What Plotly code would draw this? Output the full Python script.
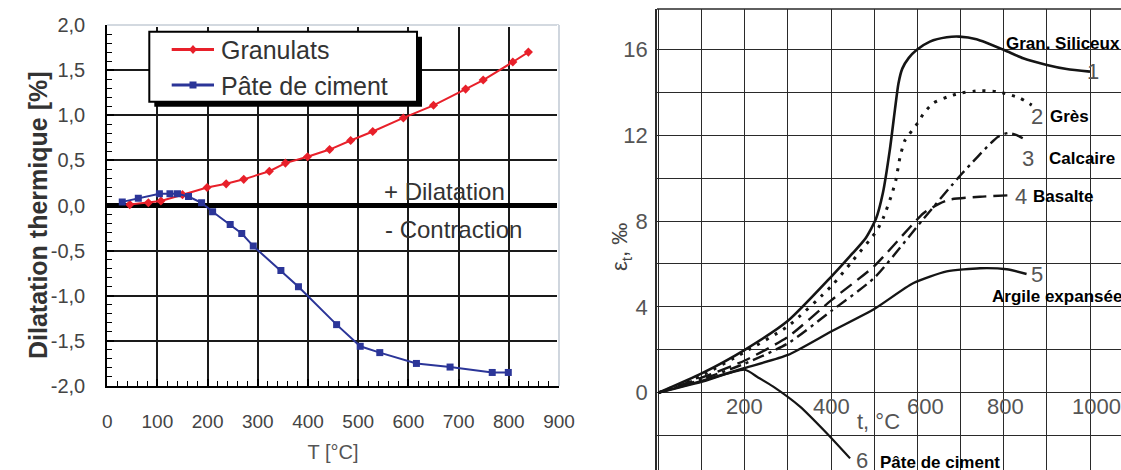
import plotly.graph_objects as go

W, H = 1121, 470

# ---------------- left chart data ----------------
gran_T = [45, 82, 107, 150, 199, 237, 272, 323, 355, 399, 443, 485, 529, 590, 650, 714, 749, 808, 839]
gran_D = [0.01, 0.03, 0.05, 0.12, 0.20, 0.24, 0.29, 0.38, 0.47, 0.54, 0.62, 0.72, 0.82, 0.97, 1.11, 1.29, 1.39, 1.59, 1.70]
pate_T = [30, 62, 104, 125, 140, 162, 188, 210, 245, 268, 291, 346, 381, 457, 504, 543, 616, 683, 767, 799]
pate_D = [0.04, 0.08, 0.13, 0.13, 0.13, 0.10, 0.03, -0.07, -0.21, -0.31, -0.45, -0.72, -0.90, -1.32, -1.56, -1.63, -1.75, -1.79, -1.85, -1.85]
left_names = ["Granulats", "Pâte de ciment"]
left_colors = ["#e8202a", "#2b3598"]
left_xticks = [0, 100, 200, 300, 400, 500, 600, 700, 800, 900]
left_yticks = [-2.0, -1.5, -1.0, -0.5, 0.0, 0.5, 1.0, 1.5, 2.0]
left_ytext = ["-2,0", "-1,5", "-1,0", "-0,5", "0,0", "0,5", "1,0", "1,5", "2,0"]

# ---------------- right chart data ----------------
c1_t = [0, 100, 200, 300, 400, 450, 480, 504, 520, 536, 548, 556, 565, 580, 598, 629, 668, 697, 737, 801, 845, 900, 946, 1000]
c1_e = [0, 0.9, 2.0, 3.35, 5.4, 6.5, 7.2, 8.1, 9.3, 11.3, 13.2, 14.4, 15.1, 15.6, 15.97, 16.36, 16.56, 16.59, 16.47, 15.97, 15.58, 15.27, 15.08, 14.96]
c2_t = [0, 100, 200, 300, 400, 450, 506, 521, 540, 550, 560, 571, 587, 602, 614, 637, 672, 697, 745, 784, 811, 838, 865]
c2_e = [0, 0.8, 1.9, 3.1, 4.95, 6.15, 7.55, 8.15, 9.2, 9.9, 11.0, 11.75, 12.2, 12.6, 13.0, 13.5, 13.8, 13.95, 14.07, 14.03, 13.9, 13.72, 13.4]
c3_t = [0, 100, 200, 300, 400, 500, 614, 703, 787, 811, 830, 853]
c3_e = [0, 0.62, 1.35, 2.3, 3.8, 5.35, 8.1, 10.2, 11.93, 12.1, 12.0, 11.75]
c4_t = [0, 100, 200, 300, 400, 500, 614, 650, 675, 745, 815]
c4_e = [0, 0.7, 1.5, 2.6, 4.3, 5.9, 8.36, 8.8, 9.0, 9.13, 9.2]
c5_t = [0, 100, 200, 300, 400, 500, 590, 668, 745, 807, 853]
c5_e = [0, 0.55, 1.15, 1.76, 2.85, 3.9, 5.1, 5.65, 5.8, 5.75, 5.53]
c6_t = [0, 100, 200, 230, 266, 328, 390, 444]
c6_e = [0, 0.5, 1.07, 0.72, 0.28, -0.65, -1.89, -3.06]
right_xlabels = ["200", "400", "600", "800", "1000"]
right_xlabel_pos = [200, 402, 619, 805, 1015]
right_yticks = [0, 4, 8, 12, 16]

FONT = "Liberation Sans"
fig = go.Figure()

# left traces
fig.add_trace(go.Scatter(x=gran_T, y=gran_D, name=left_names[0], mode="lines+markers",
                         line=dict(color=left_colors[0], width=2),
                         marker=dict(symbol="diamond", size=7, color=left_colors[0]),
                         xaxis="x", yaxis="y", showlegend=False))
fig.add_trace(go.Scatter(x=pate_T, y=pate_D, name=left_names[1], mode="lines+markers",
                         line=dict(color=left_colors[1], width=2),
                         marker=dict(symbol="square", size=7, color=left_colors[1]),
                         xaxis="x", yaxis="y", showlegend=False))

# right traces
blk = "#151515"
for t, e, dash, w in [(c1_t, c1_e, "solid", 2.6), (c2_t, c2_e, "3px,7px", 3),
                      (c3_t, c3_e, "12px,5px,3px,5px", 2.4), (c4_t, c4_e, "14px,7px", 2.4),
                      (c5_t, c5_e, "solid", 2.4), (c6_t, c6_e, "solid", 2.2)]:
    fig.add_trace(go.Scatter(x=t, y=e, mode="lines", showlegend=False,
                             line=dict(color=blk, width=w, dash=dash, shape="spline", smoothing=0.6),
                             xaxis="x2", yaxis="y2"))

# geometry
lx0, lx1 = 107.2 / W, 559 / W
ly0, ly1 = 1 - 386 / H, 1 - 25 / H
rx0 = 657 / W
ry1 = 1 - 9 / H

grid_c = "#1a1a1a"
fig.update_layout(
    width=W, height=H, autosize=False,
    margin=dict(l=0, r=0, t=0, b=0, autoexpand=False),
    paper_bgcolor="white", plot_bgcolor="white",
    font=dict(family=FONT, color="#444"),
    showlegend=False,
    xaxis=dict(domain=[lx0, lx1], range=[0, 900], tickvals=left_xticks, automargin=False,
               showgrid=True, gridcolor=grid_c, gridwidth=1.8,
               showline=True, linecolor="black", linewidth=2, zeroline=False,
               ticks="inside", ticklen=7, tickcolor="black", tickwidth=1.5,
               minor=dict(dtick=20, tick0=0, ticks="inside", ticklen=5, tickcolor="black", tickwidth=1.2, showgrid=False),
               tickfont=dict(size=19, color="#444"), ticklabelstandoff=17,
               title=dict(text="T [°C]", font=dict(size=20, color="#555"), standoff=14),
               anchor="y"),
    yaxis=dict(domain=[ly0, ly1], range=[-2, 2], tickvals=left_yticks, ticktext=left_ytext, automargin=False,
               showgrid=True, gridcolor=grid_c, gridwidth=1.8,
               showline=True, linecolor="black", linewidth=2,
               zeroline=True, zerolinecolor="black", zerolinewidth=5,
               ticks="inside", ticklen=7, tickcolor="black", tickwidth=1.5,
               minor=dict(dtick=0.1, tick0=0, ticks="inside", ticklen=5, tickcolor="black", tickwidth=1.2, showgrid=False),
               tickfont=dict(size=20, color="#444"), ticklabelstandoff=16,
               anchor="x"),
    xaxis2=dict(domain=[rx0, 1.0], range=[-3.48, 1071.85], tick0=0, dtick=100, automargin=False,
                showgrid=True, gridcolor="#2a2a2a", gridwidth=1.4,
                showticklabels=False, ticks="", zeroline=False, showline=False,
                anchor="y2"),
    yaxis2=dict(domain=[0, ry1], range=[-3.602, 17.878], tickvals=right_yticks, automargin=False,
                showgrid=True, gridcolor="#2a2a2a", gridwidth=1.4,
                minor=dict(dtick=2, tick0=0, showgrid=True, gridcolor="#2a2a2a", gridwidth=1.4, ticks=""),
                showline=True, linecolor="#2a2a2a", linewidth=1.6, zeroline=False,
                ticks="", tickfont=dict(size=22, color="#555"), ticklabelstandoff=3,
                anchor="x2"),
)


def px(x):
    return x / W


def py(y):
    return 1 - y / H


shapes = []
# light top/right border of left chart
for (x0, y0, x1, y1) in [(0, 1, 1, 1), (1, 0, 1, 1)]:
    shapes.append(dict(type="line", xref="x domain", yref="y domain", x0=x0, y0=y0, x1=x1, y1=y1,
                       line=dict(color="white", width=4), layer="above"))
    shapes.append(dict(type="line", xref="x domain", yref="y domain", x0=x0, y0=y0, x1=x1, y1=y1,
                       line=dict(color="#c4ccd6", width=1.6), layer="above"))
# top border of right chart
shapes.append(dict(type="line", xref="x2 domain", yref="y2 domain", x0=0, y0=1, x1=1, y1=1,
                   line=dict(color="#2a2a2a", width=1.6)))
# legend box with drop shadow
shapes.append(dict(type="rect", xref="paper", yref="paper",
                   x0=px(154.3), x1=px(422), y0=py(106.7), y1=py(36.7),
                   fillcolor="black", line=dict(width=0), layer="above"))
shapes.append(dict(type="rect", xref="paper", yref="paper",
                   x0=px(149.3), x1=px(417), y0=py(101.7), y1=py(31.7),
                   fillcolor="white", line=dict(color="black", width=2), layer="above"))
leg_rows = [49.5, 85.0]
for row, col, sym in zip(leg_rows, left_colors, ["diamond", "square"]):
    shapes.append(dict(type="line", xref="paper", yref="paper", x0=px(171.7), x1=px(214),
                       y0=py(row), y1=py(row), line=dict(color=col, width=3), layer="above"))
    if sym == "diamond":
        path = "M {a},{b} L {c},{d} L {e},{b} L {c},{f} Z".format(
            a=px(189), b=py(row), c=px(193), d=py(row - 4.5), e=px(197), f=py(row + 4.5))
        shapes.append(dict(type="path", xref="paper", yref="paper", path=path,
                           fillcolor=col, line=dict(width=0), layer="above"))
    else:
        shapes.append(dict(type="rect", xref="paper", yref="paper", x0=px(189.5), x1=px(196.5),
                           y0=py(row + 3.5), y1=py(row - 3.5), fillcolor=col, line=dict(width=0), layer="above"))
fig.update_layout(shapes=shapes)

ann = []
for row, name in zip(leg_rows, left_names):
    ann.append(dict(text=name, xref="paper", yref="paper", x=px(219), y=py(row + 1), xanchor="left",
                    yanchor="middle", showarrow=False, font=dict(size=25, color="#333", family=FONT)))
# left chart texts
ann.append(dict(text="Dilatation thermique [%]", xref="paper", yref="paper", x=px(22), y=py(215),
                textangle=-90, showarrow=False, font=dict(size=25, color="#333", family=FONT, weight="bold")))
ann.append(dict(text="+ Dilatation", xref="x", yref="y", x=547, y=0.153, xanchor="left",
                showarrow=False, font=dict(size=24, color="#333")))
ann.append(dict(text="- Contraction", xref="x", yref="y", x=549.6, y=-0.271, xanchor="left",
                showarrow=False, font=dict(size=24, color="#333")))

# right chart texts
lab_font = dict(size=17, color="black", family=FONT, weight="bold")
num_font = dict(size=22, color="#555", family=FONT)
for txt, x, y, anc, f in [
    ("Gran. Siliceux", 801.4, 16.28, "left", lab_font),
    ("1", 1007.6, 14.96, "center", num_font),
    ("2", 877.9, 12.86, "center", num_font),
    ("Grès", 903.4, 12.86, "left", lab_font),
    ("3", 857, 10.92, "center", num_font),
    ("Calcaire", 901, 10.92, "left", lab_font),
    ("4", 840.1, 9.16, "center", num_font),
    ("Basalte", 863.3, 9.16, "left", lab_font),
    ("5", 876.5, 5.50, "center", num_font),
    ("Argile expansée", 768.3, 4.50, "left", lab_font),
    ("6", 470.9, -3.14, "center", num_font),
    ("Pâte de ciment", 509.4, -3.23, "left", lab_font),
    ("t, °C", 509.4, -1.35, "center", num_font),
]:
    ann.append(dict(text=txt, xref="x2", yref="y2", x=x, y=y, xanchor=anc, showarrow=False, font=f))
for txt, x in zip(right_xlabels, right_xlabel_pos):
    ann.append(dict(text=txt, xref="x2", yref="y2", x=x, y=-0.65, showarrow=False, font=num_font))
ann.append(dict(text="-4", xref="x2", yref="y2", x=-3.48, y=-4, xanchor="right", xshift=-3,
                showarrow=False, font=num_font))
ann.append(dict(text="ε<sub>t</sub>, ‰", xref="paper", yref="paper", x=px(621), y=py(247),
                textangle=-90, showarrow=False, font=dict(size=22, color="#444", family=FONT)))
fig.update_layout(annotations=ann)

fig.write_html("out.html")
